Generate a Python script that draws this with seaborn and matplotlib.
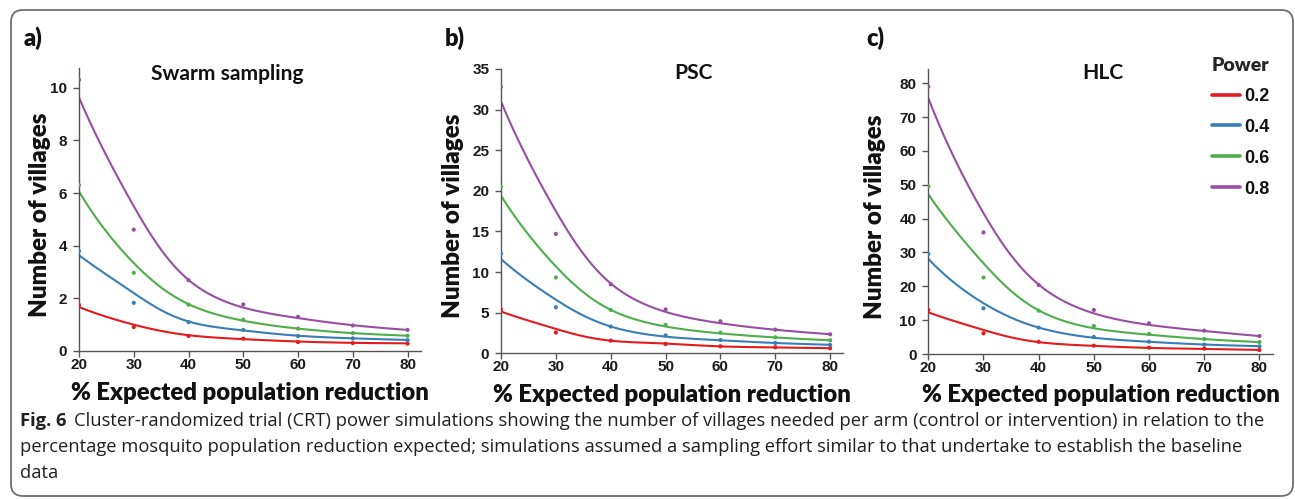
import numpy as np
import pandas as pd
import matplotlib
matplotlib.use("Agg")
import matplotlib.pyplot as plt
import seaborn as sns
from matplotlib import font_manager
from matplotlib.patches import FancyBboxPatch
from matplotlib.transforms import IdentityTransform

# ---------------- data ----------------
reduction = [20, 30, 40, 50, 60, 70, 80]
power_labels = ["0.2", "0.4", "0.6", "0.8"]
power_colors = ["#E41A1C", "#377EB8", "#4DAF4A", "#984EA3"]
panel_titles = ["Swarm sampling", "PSC", "HLC"]
panel_tags = ["a)", "b)", "c)"]
x_ticks = [20, 30, 40, 50, 60, 70, 80]
y_ticks_a = [0, 2, 4, 6, 8, 10]
y_ticks_b = [0, 5, 10, 15, 20, 25, 30, 35]
y_ticks_c = [0, 10, 20, 30, 40, 50, 60, 70, 80]

# simulated values (dots)
swarm_pts_02 = [1.75, 0.91, 0.57, 0.47, 0.34, 0.30, 0.28]
swarm_pts_04 = [3.80, 1.83, 1.10, 0.80, 0.57, 0.48, 0.41]
swarm_pts_06 = [6.30, 2.97, 1.76, 1.19, 0.85, 0.68, 0.58]
swarm_pts_08 = [10.3, 4.61, 2.69, 1.77, 1.30, 0.97, 0.80]

psc_pts_02 = [5.4, 2.55, 1.56, 1.15, 0.86, 0.74, 0.62]
psc_pts_04 = [12.3, 5.67, 3.29, 2.20, 1.64, 1.27, 1.02]
psc_pts_06 = [20.5, 9.33, 5.34, 3.49, 2.54, 1.97, 1.60]
psc_pts_08 = [32.8, 14.7, 8.50, 5.40, 3.94, 2.91, 2.34]

hlc_pts_02 = [13.0, 6.1, 3.6, 2.46, 1.87, 1.58, 1.18]
hlc_pts_04 = [29.5, 13.5, 7.8, 5.02, 3.64, 2.76, 2.27]
hlc_pts_06 = [49.5, 22.6, 12.8, 8.28, 5.90, 4.43, 3.55]
hlc_pts_08 = [79.0, 35.9, 20.4, 13.0, 9.07, 6.90, 5.32]

# fitted trend curves (read at each tick)
swarm_fit_02 = [1.67, 1.00, 0.60, 0.45, 0.36, 0.31, 0.29]
swarm_fit_04 = [3.64, 2.20, 1.12, 0.78, 0.58, 0.48, 0.42]
swarm_fit_06 = [6.06, 3.34, 1.78, 1.15, 0.85, 0.68, 0.58]
swarm_fit_08 = [9.63, 5.50, 2.70, 1.65, 1.25, 0.98, 0.80]

psc_fit_02 = [5.14, 3.0, 1.55, 1.20, 0.85, 0.72, 0.63]
psc_fit_04 = [11.6, 6.6, 3.30, 2.05, 1.60, 1.27, 1.05]
psc_fit_06 = [19.4, 10.7, 5.35, 3.30, 2.45, 1.95, 1.60]
psc_fit_08 = [31.0, 17.5, 8.60, 5.10, 3.70, 2.90, 2.35]

hlc_fit_02 = [12.3, 7.1, 3.5, 2.4, 1.8, 1.5, 1.2]
hlc_fit_04 = [28.1, 15.0, 7.8, 4.8, 3.6, 2.8, 2.3]
hlc_fit_06 = [47.2, 26.8, 12.9, 7.6, 5.7, 4.4, 3.5]
hlc_fit_08 = [75.6, 41.6, 20.5, 12.0, 8.6, 6.8, 5.3]

caption_bold = "Fig. 6"
caption_lines = [
    "Cluster-randomized trial (CRT) power simulations showing the number of villages needed per arm (control or intervention) in relation to the",
    "percentage mosquito population reduction expected; simulations assumed a sampling effort similar to that undertake to establish the baseline",
    "data",
]


# ---------------- helpers ----------------
def has_font(name):
    try:
        font_manager.findfont(font_manager.FontProperties(family=name), fallback_to_default=False)
        return True
    except Exception:
        return False


LABEL_FONT = "Lato" if has_font("Lato") else "DejaVu Sans"
TICK_FONT = "Liberation Sans" if has_font("Liberation Sans") else "DejaVu Sans"
CAP_FONT = "Open Sans" if has_font("Open Sans") else "DejaVu Sans"


def smooth_curve(xs, ys, n=240):
    """Natural cubic spline in log space, only used to draw the trend smoothly."""
    x = np.asarray(xs, float)
    y = np.log(np.asarray(ys, float))
    h = np.diff(x)
    m = len(x)
    A = np.zeros((m, m))
    r = np.zeros(m)
    A[0, 0] = A[-1, -1] = 1.0
    for i in range(1, m - 1):
        A[i, i - 1] = h[i - 1]
        A[i, i] = 2 * (h[i - 1] + h[i])
        A[i, i + 1] = h[i]
        r[i] = 3 * ((y[i + 1] - y[i]) / h[i] - (y[i] - y[i - 1]) / h[i - 1])
    c = np.linalg.solve(A, r)
    b = (y[1:] - y[:-1]) / h - h * (2 * c[:-1] + c[1:]) / 3
    d = (c[1:] - c[:-1]) / (3 * h)
    xd = np.linspace(x[0], x[-1], n)
    idx = np.clip(np.searchsorted(x, xd, side="right") - 1, 0, m - 2)
    dx = xd - x[idx]
    yd = y[idx] + b[idx] * dx + c[idx] * dx ** 2 + d[idx] * dx ** 3
    return xd, np.exp(yd)


def build_frames(pts, fits):
    prow, frow = [], []
    for lab, pv, fv in zip(power_labels, pts, fits):
        for xv, yv in zip(reduction, pv):
            prow.append((xv, yv, lab))
        xd, yd = smooth_curve(reduction, fv)
        for xv, yv in zip(xd, yd):
            frow.append((xv, yv, lab))
    return (pd.DataFrame(prow, columns=["reduction", "villages", "Power"]),
            pd.DataFrame(frow, columns=["reduction", "villages", "Power"]))


panels = [
    dict(pts=[swarm_pts_02, swarm_pts_04, swarm_pts_06, swarm_pts_08],
         fits=[swarm_fit_02, swarm_fit_04, swarm_fit_06, swarm_fit_08],
         yticks=y_ticks_a, ymax=10.75, rect=(79, 68, 420.7, 351),
         ylab_x=40, xlab_y=393, title_xy=(227, 74), tag_xy=(24, 38)),
    dict(pts=[psc_pts_02, psc_pts_04, psc_pts_06, psc_pts_08],
         fits=[psc_fit_02, psc_fit_04, psc_fit_06, psc_fit_08],
         yticks=y_ticks_b, ymax=35, rect=(501, 69, 843.3, 353.3),
         ylab_x=453, xlab_y=395, title_xy=(693, 73), tag_xy=(445, 38)),
    dict(pts=[hlc_pts_02, hlc_pts_04, hlc_pts_06, hlc_pts_08],
         fits=[hlc_fit_02, hlc_fit_04, hlc_fit_06, hlc_fit_08],
         yticks=y_ticks_c, ymax=84.1, rect=(928.3, 69.3, 1272.7, 354),
         ylab_x=875, xlab_y=395, title_xy=(1103, 73), tag_xy=(866, 38)),
]

# ---------------- figure ----------------
sns.set_theme(style="white")
plt.rcParams["font.family"] = [TICK_FONT, "DejaVu Sans"]

W, H = 1295, 499
fig = plt.figure(figsize=(W / 100, H / 100), dpi=100)
fig.patch.set_facecolor("white")


def fx(x):
    return x / W


def fy(y):
    return 1 - y / H


palette = dict(zip(power_labels, power_colors))
fit_texts = []  # (text, target, vertical)
titles = []
axes = []
tick_kw = dict(fontsize=11, fontweight="bold", family=TICK_FONT, color="#1a1a1a")
for i, p in enumerate(panels):
    l, t, r, b = p["rect"]
    ax = fig.add_axes([fx(l), fy(b), (r - l) / W, (b - t) / H])
    axes.append(ax)
    df_pts, df_fit = build_frames(p["pts"], p["fits"])
    sns.lineplot(data=df_fit, x="reduction", y="villages", hue="Power",
                 palette=palette, hue_order=power_labels, estimator=None,
                 sort=False, linewidth=1.5, ax=ax, legend=(i == 2))
    sns.scatterplot(data=df_pts, x="reduction", y="villages", hue="Power",
                    palette=palette, hue_order=power_labels, s=9,
                    linewidth=0, ax=ax, legend=False, zorder=3)
    ax.set_xlim(20, 82.4)
    ax.set_ylim(0, p["ymax"])
    ax.set_xticks(x_ticks, labels=[str(v) for v in x_ticks], **tick_kw)
    ax.set_yticks(p["yticks"], labels=[str(v) for v in p["yticks"]], **tick_kw)
    ax.set_xlabel("")
    ax.set_ylabel("")
    sns.despine(ax=ax)
    for s in ("left", "bottom"):
        ax.spines[s].set_color("#555555")
        ax.spines[s].set_linewidth(1.0)
    ax.tick_params(axis="both", direction="out", length=4, width=1,
                   color="#555555", bottom=True, left=True)
    ax.tick_params(axis="x", pad=1)
    ax.tick_params(axis="y", pad=4.5)
    ax.patch.set_alpha(0)

    # labels
    cx = (l + r) / 2
    xl = fig.text(fx(cx), fy(p["xlab_y"]), "% Expected population reduction",
                  ha="center", va="center", family=LABEL_FONT, weight="heavy",
                  size=20, color="#111111")
    yl = fig.text(fx(p["ylab_x"]), fy((t + b) / 2 + 5), "Number of villages",
                  ha="center", va="center", rotation=90, family=LABEL_FONT,
                  weight="heavy", size=20, color="#111111")
    tt = fig.text(fx(p["title_xy"][0]), fy(p["title_xy"][1]), panel_titles[i],
                  ha="center", va="center", family=LABEL_FONT, weight="bold",
                  size=14, color="#111111")
    titles.append(tt)
    fig.text(fx(p["tag_xy"][0]), fy(p["tag_xy"][1]), panel_tags[i],
             ha="left", va="center", family=LABEL_FONT, weight="heavy",
             size=17, color="#111111")
    fit_texts.append((xl, 357, False))
    fit_texts.append((yl, 204, True))

# legend on panel c
sns.move_legend(axes[2], "upper left", bbox_to_anchor=(fx(1212), fy(57)),
                bbox_transform=fig.transFigure, title="Power", frameon=False,
                prop={"family": TICK_FONT, "weight": "bold", "size": 13},
                title_fontproperties={"family": LABEL_FONT, "weight": "heavy", "size": 14},
                handlelength=1.55, handletextpad=0.25, labelspacing=0.77,
                borderpad=0, borderaxespad=0)
leg = axes[2].get_legend()
for ln in leg.get_lines():
    ln.set_linewidth(2.6)
for txt in leg.get_texts():
    txt.set_color("#111111")

# caption
cap_y = [421, 447, 473]
cap_color = "#231f20"
cb = fig.text(fx(20), fy(cap_y[0]), caption_bold, ha="left", va="center",
              family=CAP_FONT, weight="bold", size=12, color=cap_color)
cl = [fig.text(fx(20), fy(cap_y[k]), caption_lines[k], ha="left", va="center",
               family=CAP_FONT, size=12, color=cap_color) for k in range(3)]

# frame
frame = FancyBboxPatch((11, 3), 1282, 486,
                       boxstyle="round,pad=0,rounding_size=12",
                       transform=IdentityTransform(), facecolor="none",
                       edgecolor="#6e6e6e", linewidth=1.3)
fig.add_artist(frame)

# fit text sizes to measured extents
fig.canvas.draw()
renderer = fig.canvas.get_renderer()
for _ in range(2):
    for t_, target, vert in fit_texts:
        bb = t_.get_window_extent(renderer)
        cur = bb.height if vert else bb.width
        t_.set_fontsize(t_.get_fontsize() * target / cur)
    bb = titles[0].get_window_extent(renderer)
    tsz = titles[0].get_fontsize() * 152 / bb.width
    for tt in titles:
        tt.set_fontsize(tsz)
    # caption: line 2 spans x 20 -> 1240
    bb = cl[1].get_window_extent(renderer)
    sz2 = cl[1].get_fontsize() * 1220 / bb.width
    for c in cl:
        c.set_fontsize(sz2)
    cb.set_fontsize(sz2)
    fig.canvas.draw()

bbb = cb.get_window_extent(renderer)
cl[0].set_x(fx(bbb.x1 + 0.55 * sz2))

fig.savefig("out.png", dpi=100, facecolor="white")
